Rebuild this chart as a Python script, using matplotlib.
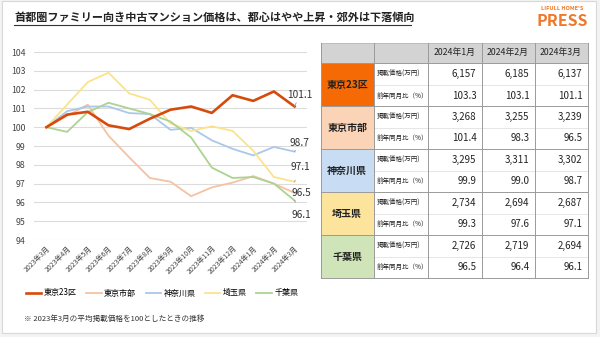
import matplotlib.pyplot as plt
from matplotlib.patches import Rectangle

plt.rcParams['font.family'] = ['Noto Sans CJK JP', 'DejaVu Sans']

# データ
months = ['2023年3月', '2023年4月', '2023年5月', '2023年6月', '2023年7月', '2023年8月',
          '2023年9月', '2023年10月', '2023年11月', '2023年12月', '2024年1月', '2024年2月', '2024年3月']
regions = ['東京23区', '東京市部', '神奈川県', '埼玉県', '千葉県']
tokyo23 = [100, 100.67, 100.82, 100.1, 99.9, 100.45, 100.93, 101.1, 100.76, 101.7, 101.4, 101.9, 101.1]
tokyo_city = [100, 100.6, 101.2, 99.55, 98.4, 97.3, 97.1, 96.33, 96.8, 97.05, 97.4, 97.0, 96.5]
kanagawa = [100, 100.85, 101.1, 101.1, 100.75, 100.7, 99.86, 99.97, 99.3, 98.85, 98.5, 98.95, 98.7]
saitama = [100, 101.2, 102.4, 102.9, 101.8, 101.46, 100.2, 99.8, 100.05, 99.8, 98.75, 97.35, 97.1]
chiba = [100, 99.75, 100.8, 101.3, 101.0, 100.7, 100.3, 99.45, 97.85, 97.3, 97.35, 97.0, 96.1]
series = [tokyo23, tokyo_city, kanagawa, saitama, chiba]

table_months = ['2024年1月', '2024年2月', '2024年3月']
row_labels = ['掲載価格(万円)', '前年同月比（%）']
prices = [[6157, 6185, 6137], [3268, 3255, 3239], [3295, 3311, 3302],
          [2734, 2694, 2687], [2726, 2719, 2694]]
yoy = [[103.3, 103.1, 101.1], [101.4, 98.3, 96.5], [99.9, 99.0, 98.7],
       [99.3, 97.6, 97.1], [96.5, 96.4, 96.1]]

line_colors = ['#d64a0c', '#f5c2a2', '#aac8eb', '#fbe38c', '#acd391']
line_widths = [1.9, 1.3, 1.3, 1.3, 1.3]
fill_colors = ['#f56a05', '#fbd4b8', '#c8ddf3', '#fde49c', '#cfe4b8']

W, H = 600, 337
fig = plt.figure(figsize=(6, 3.37), dpi=100, facecolor='#f3f3f3')

# 背景パネル（ピクセル座標）
ov = fig.add_axes([0, 0, 1, 1])
ov.set_xlim(0, W)
ov.set_ylim(H, 0)
ov.axis('off')
ov.add_patch(Rectangle((2, 1), 594, 332, facecolor='white', edgecolor='#d8d8d8', lw=0.8))

# タイトル
title = '首都圏ファミリー向き中古マンション価格は、都心はやや上昇・郊外は下落傾向'
ov.text(14, 17, title, fontsize=8, fontweight='bold', color='#222222', va='center', ha='left')
ov.plot([14, 411], [24.5, 24.5], color='#333333', lw=0.8)

# ロゴ
ov.text(562, 9, "LIFULL HOME'S", fontsize=4, fontweight='bold', color='#f07828', ha='center', va='center')
ov.text(562, 21, 'PRESS', fontsize=11.5, fontweight='bold', color='#f07828', ha='center', va='center')

# 折れ線グラフ
ax = fig.add_axes([34 / W, 1 - 240 / H, (307 - 34) / W, (240 - 52) / H])
ax.patch.set_alpha(0)
x = list(range(len(months)))
for vals, name, c, lw in zip(series, regions, line_colors, line_widths):
    ax.plot(x, vals, color=c, lw=lw, label=name, zorder=3 if name == '東京23区' else 2)
ax.set_xlim(-0.6, 12.6)
ax.set_ylim(94, 104)
ax.set_yticks(range(94, 105))
ax.set_xticks(x)
ax.set_xticklabels(months, rotation=45, ha='right', rotation_mode='anchor', fontsize=5)
ax.tick_params(axis='y', labelsize=6.3, colors='#444444', length=0, pad=6)
ax.tick_params(axis='x', colors='#444444', length=0, pad=3)
ax.grid(axis='y', color='#dcdcdc', lw=0.8)
for s in ax.spines.values():
    s.set_visible(False)

# 末尾のラベル
end_labels = [(0, (5, 11.5)), (2, (5, 9)), (3, (6, 14.5)), (1, (7, 0)), (4, (7, -14.5))]
for i, off in end_labels:
    v = series[i][-1]
    ax.annotate(f'{v:.1f}', xy=(x[-1], v), xytext=off, textcoords='offset pixels',
                fontsize=7.3, color='#333333', ha='center', va='center',
                arrowprops=dict(arrowstyle='-', color='#999999', lw=0.6, shrinkA=4, shrinkB=0))

fig.legend(loc='center', bbox_to_anchor=(162 / W, 1 - 293 / H), ncol=5, frameon=False,
           fontsize=5.8, handlelength=1.9, columnspacing=1.2, handletextpad=0.3)

ov.text(24, 319, '※ 2023年3月の平均掲載価格を100としたときの推移', fontsize=5.5,
        color='#333333', va='center', ha='left')

# 表
cols = [320.5, 374, 427.5, 481.5, 534.5, 587.5]
top, head_b = 42.5, 63.3
reg_h = (278 - head_b) / len(regions)

ov.add_patch(Rectangle((cols[0], top), cols[5] - cols[0], head_b - top,
                       facecolor='#d3d3d3', edgecolor='none'))
for j, m in enumerate(table_months):
    cx = (cols[j + 2] + cols[j + 3]) / 2
    ov.text(cx, (top + head_b) / 2, m, fontsize=6.3, ha='center', va='center', color='#222222')

for i, name in enumerate(regions):
    y0 = head_b + i * reg_h
    ov.add_patch(Rectangle((cols[0], y0), cols[1] - cols[0], reg_h,
                           facecolor=fill_colors[i], edgecolor='none'))
    ov.text((cols[0] + cols[1]) / 2, y0 + reg_h / 2, name, fontsize=7.2, fontweight='bold',
            ha='center', va='center', color='#222222')
    for k in range(2):
        yc = y0 + reg_h * (k + 0.5) / 2
        ov.text(cols[1] + 3, yc, row_labels[k], fontsize=4.7, ha='left', va='center', color='#222222')
        for j in range(3):
            val = f'{prices[i][j]:,}' if k == 0 else f'{yoy[i][j]:.1f}'
            ov.text(cols[j + 3] - 5, yc, val, fontsize=7, ha='right', va='center', color='#222222')
    ov.plot([cols[1], cols[5]], [y0 + reg_h / 2] * 2, color='#e2e2e2', lw=0.6)
    ov.plot([cols[0], cols[5]], [y0, y0], color='#9a9a9a', lw=0.7)

bottom = head_b + len(regions) * reg_h
ov.plot([cols[0], cols[5]], [bottom, bottom], color='#9a9a9a', lw=0.7)
ov.plot([cols[0], cols[5]], [top, top], color='#bdbdbd', lw=0.7)
for cx in cols:
    ov.plot([cx, cx], [top, bottom], color='#9a9a9a', lw=0.7)

fig.savefig('out.png', dpi=100, facecolor=fig.get_facecolor())
